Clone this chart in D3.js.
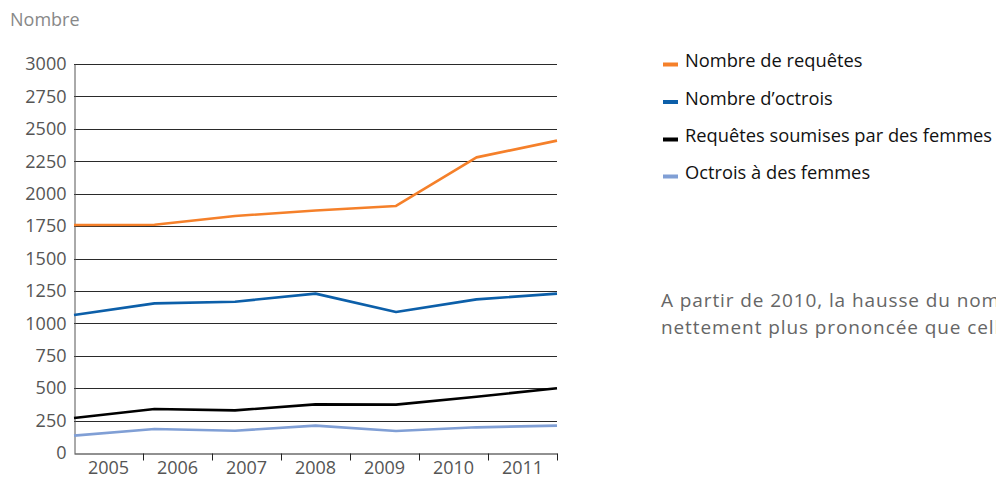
<!DOCTYPE html>
<html>
<head>
<meta charset="utf-8">
<script src="https://cdn.jsdelivr.net/npm/d3@7"></script>
<style>
  html, body { margin: 0; padding: 0; background: #fff; overflow: hidden; }
  svg { display: block; }
</style>
</head>
<body>
<svg id="chart" width="996" height="479"></svg>
<script>
const years = ["2005", "2006", "2007", "2008", "2009", "2010", "2011"];
const yTicks = [0, 250, 500, 750, 1000, 1250, 1500, 1750, 2000, 2250, 2500, 2750, 3000];
const seriesNames = ["Nombre de requêtes", "Nombre d’octrois", "Requêtes soumises par des femmes", "Octrois à des femmes"];
const requetes = [1758, 1760, 1828, 1870, 1905, 2280, 2409];
const octrois = [1064, 1154, 1167, 1229, 1087, 1185, 1229];
const requetesFemmes = [270, 339, 329, 375, 373, 434, 499];
const octroisFemmes = [134, 185, 172, 211, 170, 198, 211];
const colors = ["#f5802a", "#0c5fa9", "#000000", "#809fd5"];
const yTitle = "Nombre";
const note = ["A partir de 2010, la hausse du nombre de requêtes est", "nettement plus prononcée que celle du nombre d’octrois."];

const series = [requetes, octrois, requetesFemmes, octroisFemmes];
const svg = d3.select("#chart");
const L = 74, R = 557, T = 64, B = 453;
const font = "'Open Sans', sans-serif";

const y = d3.scaleLinear().domain([0, 3000]).range([B, T]);
const xBand = d3.scaleBand().domain(years).range([L, R]);
const xPt = d3.scalePoint().domain(years).range([L, R]);

// gridlines
svg.append("g").selectAll("line").data(yTicks.filter(d => d > 0)).join("line")
  .attr("x1", L).attr("x2", R)
  .attr("y1", d => Math.round(y(d)) + 0.5).attr("y2", d => Math.round(y(d)) + 0.5)
  .attr("stroke", "#2a2a2a").attr("stroke-width", 1);

// y axis
const yAxis = d3.axisLeft(y).tickValues(yTicks).tickSize(0).tickPadding(8).tickFormat(d3.format("d"));
const gy = svg.append("g").attr("transform", `translate(${L + 0.5},0)`).call(yAxis);
gy.select(".domain").attr("stroke", "#555");
gy.selectAll("text").attr("font-family", font).attr("font-size", 18).attr("fill", "#555");

// x axis
const xAxis = d3.axisBottom(xBand).tickSize(0).tickPadding(8);
const gx = svg.append("g").attr("transform", `translate(0,${B + 0.5})`).call(xAxis);
gx.select(".domain").attr("stroke", "#222");
gx.selectAll("text").attr("font-family", font).attr("font-size", 18).attr("fill", "#555");
// boundary ticks between categories
gx.append("g").selectAll("line").data(years).join("line")
  .attr("x1", d => Math.round(xBand(d) + xBand.bandwidth()) + 0.5)
  .attr("x2", d => Math.round(xBand(d) + xBand.bandwidth()) + 0.5)
  .attr("y1", 0).attr("y2", 7).attr("stroke", "#222");

// lines
const line = d3.line().x((d, i) => xPt(years[i])).y(d => y(d));
series.forEach((s, i) => {
  svg.append("path").datum(s).attr("d", line)
    .attr("fill", "none").attr("stroke", colors[i]).attr("stroke-width", 2.6)
    .attr("stroke-linejoin", "round");
});

// y title
svg.append("text").attr("x", 10).attr("y", 26).text(yTitle)
  .attr("font-family", font).attr("font-size", 18).attr("fill", "#888");

// legend
const lg = svg.append("g");
const legY = [64, 101.5, 139, 176];
seriesNames.forEach((n, i) => {
  lg.append("rect").attr("x", 663).attr("y", legY[i] - 1.5).attr("width", 15).attr("height", 4).attr("fill", colors[i]);
  lg.append("text").attr("x", 685).attr("y", legY[i] + 3).text(n)
    .attr("font-family", font).attr("font-size", 18.3).attr("fill", "#111");
});

// note
note.forEach((t, i) => {
  svg.append("text").attr("x", 661).attr("y", 307 + i * 27).text(t)
    .attr("font-family", font).attr("font-size", 19).attr("letter-spacing", 0.9).attr("fill", "#666");
});
</script>
</body>
</html>
